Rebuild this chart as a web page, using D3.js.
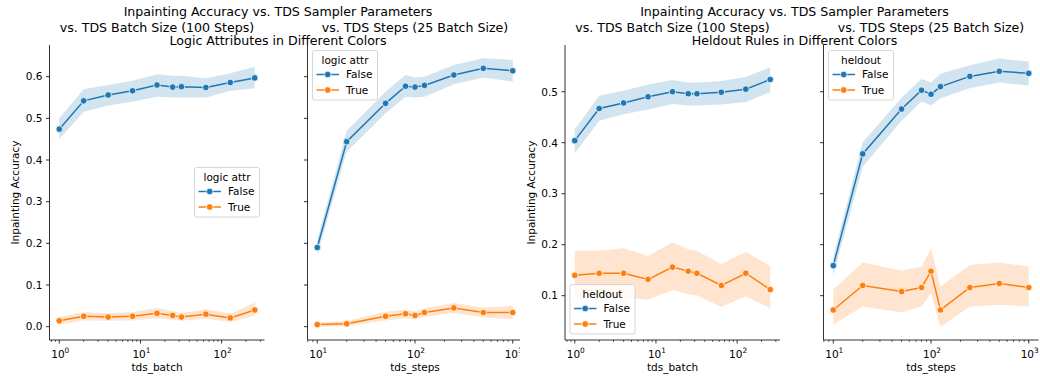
<!DOCTYPE html>
<html>
<head>
<meta charset="utf-8">
<script src="https://cdn.jsdelivr.net/npm/d3@7"></script>
<style>
  body { margin: 0; background: #fff; }
  svg { font-family: "DejaVu Sans", sans-serif; display: block; }
</style>
</head>
<body>
<div id="chart"></div>
<script>
// x values
const batchX = [1, 2, 4, 8, 16, 25, 32, 64, 128, 256];
const stepsX = [10, 20, 50, 80, 100, 125, 250, 500, 1000];

// logic attr vs tds_batch
const logicBatchFalse   = [0.474, 0.542, 0.556, 0.566, 0.580, 0.575, 0.576, 0.574, 0.586, 0.597];
const logicBatchFalseLo = [0.450, 0.516, 0.531, 0.540, 0.552, 0.550, 0.550, 0.550, 0.566, 0.572];
const logicBatchFalseHi = [0.500, 0.570, 0.580, 0.590, 0.606, 0.602, 0.602, 0.596, 0.608, 0.624];
const logicBatchTrue    = [0.014, 0.025, 0.023, 0.025, 0.032, 0.027, 0.023, 0.030, 0.021, 0.040];
const logicBatchTrueLo  = [0.005, 0.015, 0.014, 0.015, 0.020, 0.017, 0.014, 0.019, 0.011, 0.026];
const logicBatchTrueHi  = [0.023, 0.035, 0.032, 0.035, 0.045, 0.037, 0.033, 0.042, 0.031, 0.058];

// logic attr vs tds_steps
const logicStepsFalse   = [0.190, 0.444, 0.536, 0.577, 0.575, 0.579, 0.604, 0.620, 0.614];
const logicStepsFalseLo = [0.172, 0.420, 0.512, 0.552, 0.550, 0.552, 0.582, 0.598, 0.588];
const logicStepsFalseHi = [0.208, 0.470, 0.564, 0.604, 0.598, 0.600, 0.628, 0.644, 0.640];
const logicStepsTrue    = [0.005, 0.007, 0.025, 0.031, 0.027, 0.034, 0.045, 0.034, 0.034];
const logicStepsTrueLo  = [0.000, 0.001, 0.015, 0.021, 0.018, 0.024, 0.033, 0.022, 0.018];
const logicStepsTrueHi  = [0.010, 0.014, 0.036, 0.041, 0.036, 0.044, 0.057, 0.046, 0.050];

// heldout vs tds_batch
const heldBatchFalse   = [0.404, 0.467, 0.478, 0.490, 0.500, 0.496, 0.496, 0.499, 0.505, 0.524];
const heldBatchFalseLo = [0.379, 0.443, 0.456, 0.465, 0.476, 0.473, 0.473, 0.475, 0.480, 0.499];
const heldBatchFalseHi = [0.426, 0.492, 0.502, 0.514, 0.523, 0.518, 0.518, 0.521, 0.529, 0.548];
const heldBatchTrue    = [0.140, 0.144, 0.144, 0.132, 0.156, 0.148, 0.144, 0.120, 0.144, 0.112];
const heldBatchTrueLo  = [0.095, 0.099, 0.097, 0.092, 0.111, 0.103, 0.101, 0.078, 0.099, 0.075];
const heldBatchTrueHi  = [0.188, 0.188, 0.193, 0.178, 0.205, 0.191, 0.188, 0.162, 0.186, 0.158];

// heldout vs tds_steps
const heldStepsFalse   = [0.159, 0.378, 0.466, 0.503, 0.495, 0.510, 0.530, 0.540, 0.536];
const heldStepsFalseLo = [0.140, 0.353, 0.443, 0.481, 0.473, 0.487, 0.507, 0.518, 0.512];
const heldStepsFalseHi = [0.176, 0.401, 0.488, 0.525, 0.518, 0.535, 0.552, 0.565, 0.559];
const heldStepsTrue    = [0.072, 0.120, 0.108, 0.116, 0.148, 0.072, 0.116, 0.124, 0.116];
const heldStepsTrueLo  = [0.043, 0.079, 0.067, 0.079, 0.105, 0.039, 0.079, 0.082, 0.079];
const heldStepsTrueHi  = [0.112, 0.165, 0.149, 0.157, 0.193, 0.118, 0.160, 0.165, 0.157];

const logicTicks = [0.0, 0.1, 0.2, 0.3, 0.4, 0.5, 0.6];
const heldTicks = [0.1, 0.2, 0.3, 0.4, 0.5];
const hueLabels = ['False', 'True'];
const colors = ['#1f77b4', '#ff7f0e'];

const W = 1040, H = 381;
const fs = 10.5, fsTitle = 12.6;
const svg = d3.select('#chart').append('svg')
  .attr('width', W).attr('height', H);
svg.append('rect').attr('width', W).attr('height', H).attr('fill', '#fff');

const axTop = 45, axBottom = 340, axW = 215;

const series = (xs, ys, lo, hi) => xs.map((x, i) => ({x, y: ys[i], lo: lo[i], hi: hi[i]}));

const drawPanel = (g, opt) => {
  const x = d3.scaleLog().domain(opt.xDomain).range([opt.left, opt.left + axW]);
  const y = d3.scaleLinear().domain(opt.yDomain).range([axBottom, axTop]);

  opt.data.forEach((s, k) => {
    const area = d3.area().x(d => x(d.x)).y0(d => y(d.lo)).y1(d => y(d.hi));
    g.append('path').attr('d', area(s)).attr('fill', colors[k]).attr('fill-opacity', 0.2);
  });
  opt.data.forEach((s, k) => {
    const line = d3.line().x(d => x(d.x)).y(d => y(d.y));
    g.append('path').attr('d', line(s)).attr('fill', 'none')
      .attr('stroke', colors[k]).attr('stroke-width', 1.5);
    g.selectAll(null).data(s).join('circle')
      .attr('cx', d => x(d.x)).attr('cy', d => y(d.y)).attr('r', 3.3)
      .attr('fill', colors[k]).attr('stroke', '#fff').attr('stroke-width', 0.75);
  });

  // x axis
  const ax = g.append('g');
  ax.append('line').attr('x1', opt.left).attr('x2', opt.left + axW)
    .attr('y1', axBottom).attr('y2', axBottom).attr('stroke', '#000').attr('stroke-width', 0.8);
  const [d0, d1] = opt.xDomain;
  const minor = [];
  for (let e = Math.floor(Math.log10(d0)); e <= Math.ceil(Math.log10(d1)); e++) {
    for (let m = 2; m <= 9; m++) {
      const v = m * Math.pow(10, e);
      if (v >= d0 && v <= d1) minor.push(v);
    }
  }
  ax.selectAll(null).data(minor).join('line')
    .attr('x1', d => x(d)).attr('x2', d => x(d))
    .attr('y1', axBottom).attr('y2', axBottom + 2)
    .attr('stroke', '#000').attr('stroke-width', 0.6);
  const major = opt.majors;
  ax.selectAll(null).data(major).join('line')
    .attr('x1', d => x(Math.pow(10, d))).attr('x2', d => x(Math.pow(10, d)))
    .attr('y1', axBottom).attr('y2', axBottom + 3.5)
    .attr('stroke', '#000').attr('stroke-width', 0.8);
  const tl = ax.selectAll(null).data(major).join('text')
    .attr('x', d => x(Math.pow(10, d)) + 1).attr('y', axBottom + 17.5)
    .attr('text-anchor', 'middle').attr('font-size', fs).attr('fill', '#000');
  tl.append('tspan').text('10');
  tl.append('tspan').attr('dy', -4.8).attr('font-size', 7.4).text(d => d);
  g.append('text').attr('x', opt.left + axW / 2).attr('y', axBottom + 31)
    .attr('text-anchor', 'middle').attr('font-size', fs).text(opt.xLabel);

  // y axis
  g.append('line').attr('x1', opt.left).attr('x2', opt.left)
    .attr('y1', axTop).attr('y2', axBottom).attr('stroke', '#000').attr('stroke-width', 0.8);
  g.selectAll(null).data(opt.yTicks).join('line')
    .attr('x1', opt.left - 3.5).attr('x2', opt.left)
    .attr('y1', d => y(d)).attr('y2', d => y(d))
    .attr('stroke', '#000').attr('stroke-width', 0.8);
  if (opt.yLabels) {
    g.selectAll(null).data(opt.yTicks).join('text')
      .attr('x', opt.left - 7).attr('y', d => y(d) + 3.8)
      .attr('text-anchor', 'end').attr('font-size', fs).text(d3.format('.1f'));
    g.append('text')
      .attr('transform', `translate(${opt.yLabelX}, ${(axTop + axBottom) / 2}) rotate(-90)`)
      .attr('text-anchor', 'middle').attr('font-size', fs).text('Inpainting Accuracy');
  }

  // subplot title
  g.append('text').attr('x', opt.left + axW / 2).attr('y', 32)
    .attr('text-anchor', 'middle').attr('font-size', fsTitle).text(opt.title);

  // legend
  const L = opt.legend;
  const lg = g.append('g');
  lg.append('rect').attr('x', L.x).attr('y', L.y).attr('width', 65).attr('height', 49.5)
    .attr('rx', 2).attr('fill', '#fff').attr('fill-opacity', 0.8)
    .attr('stroke', '#cccccc').attr('stroke-width', 0.8);
  lg.append('text').attr('x', L.x + 32.5).attr('y', L.y + 13)
    .attr('text-anchor', 'middle').attr('font-size', fs).text(L.title);
  hueLabels.forEach((lab, k) => {
    const yy = L.y + 24 + k * 15.5;
    lg.append('line').attr('x1', L.x + 4).attr('x2', L.x + 26.5)
      .attr('y1', yy).attr('y2', yy).attr('stroke', colors[k]).attr('stroke-width', 1.5);
    lg.append('circle').attr('cx', L.x + 15.2).attr('cy', yy).attr('r', 3.3)
      .attr('fill', colors[k]).attr('stroke', '#fff').attr('stroke-width', 0.75);
    lg.append('text').attr('x', L.x + 33.5).attr('y', yy + 3.8)
      .attr('font-size', fs).text(lab);
  });
};

// figure 1 (clipped at 520 by figure 2)
svg.append('clipPath').attr('id', 'clip1')
  .append('rect').attr('x', 0).attr('y', 0).attr('width', 520).attr('height', H);
const fig1 = svg.append('g').attr('clip-path', 'url(#clip1)');
const yLogic = [-0.032, 0.676];
drawPanel(fig1, {
  left: 49.5, xDomain: [Math.pow(10, -0.1204), Math.pow(10, 2.5286)], majors: [0, 1, 2],
  yDomain: yLogic, yTicks: logicTicks, yLabels: true, yLabelX: 19,
  xLabel: 'tds_batch', title: 'vs. TDS Batch Size (100 Steps)',
  data: [series(batchX, logicBatchFalse, logicBatchFalseLo, logicBatchFalseHi),
         series(batchX, logicBatchTrue, logicBatchTrueLo, logicBatchTrueHi)],
  legend: {x: 194.5, y: 167.5, title: 'logic attr'}
});
drawPanel(fig1, {
  left: 307.5, xDomain: [Math.pow(10, 0.9), Math.pow(10, 3.1)], majors: [1, 2, 3],
  yDomain: yLogic, yTicks: logicTicks, yLabels: false,
  xLabel: 'tds_steps', title: 'vs. TDS Steps (25 Batch Size)',
  data: [series(stepsX, logicStepsFalse, logicStepsFalseLo, logicStepsFalseHi),
         series(stepsX, logicStepsTrue, logicStepsTrueLo, logicStepsTrueHi)],
  legend: {x: 312.5, y: 50.5, title: 'logic attr'}
});
fig1.append('text').attr('x', 278).attr('y', 16.3).attr('text-anchor', 'middle')
  .attr('font-size', fsTitle).text('Inpainting Accuracy vs. TDS Sampler Parameters');
fig1.append('text').attr('x', 278).attr('y', 44.5).attr('text-anchor', 'middle')
  .attr('font-size', fsTitle).text('Logic Attributes in Different Colors');

// figure 2
const fig2 = svg.append('g');
fig2.append('rect').attr('x', 520).attr('y', 0).attr('width', 520).attr('height', H).attr('fill', '#fff');
const yHeld = [0.0131, 0.5916];
drawPanel(fig2, {
  left: 565, xDomain: [Math.pow(10, -0.1204), Math.pow(10, 2.5286)], majors: [0, 1, 2],
  yDomain: yHeld, yTicks: heldTicks, yLabels: true, yLabelX: 535,
  xLabel: 'tds_batch', title: 'vs. TDS Batch Size (100 Steps)',
  data: [series(batchX, heldBatchFalse, heldBatchFalseLo, heldBatchFalseHi),
         series(batchX, heldBatchTrue, heldBatchTrueLo, heldBatchTrueHi)],
  legend: {x: 570, y: 284.5, title: 'heldout'}
});
drawPanel(fig2, {
  left: 823.5, xDomain: [Math.pow(10, 0.9), Math.pow(10, 3.1)], majors: [1, 2, 3],
  yDomain: yHeld, yTicks: heldTicks, yLabels: false,
  xLabel: 'tds_steps', title: 'vs. TDS Steps (25 Batch Size)',
  data: [series(stepsX, heldStepsFalse, heldStepsFalseLo, heldStepsFalseHi),
         series(stepsX, heldStepsTrue, heldStepsTrueLo, heldStepsTrueHi)],
  legend: {x: 828.5, y: 50.5, title: 'heldout'}
});
fig2.append('text').attr('x', 794.5).attr('y', 16.3).attr('text-anchor', 'middle')
  .attr('font-size', fsTitle).text('Inpainting Accuracy vs. TDS Sampler Parameters');
fig2.append('text').attr('x', 794.5).attr('y', 44.5).attr('text-anchor', 'middle')
  .attr('font-size', fsTitle).text('Heldout Rules in Different Colors');
</script>
</body>
</html>
